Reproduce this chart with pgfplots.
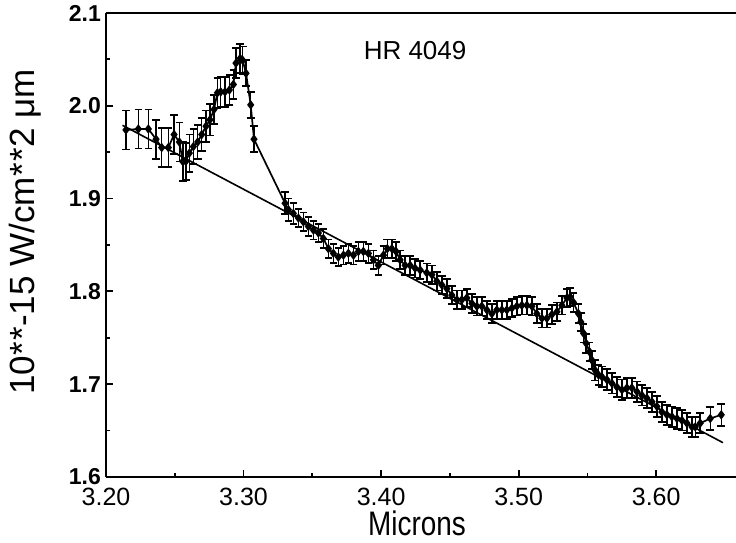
\documentclass[border=0pt]{standalone}
\usepackage{fontspec}
\setmainfont{Liberation Sans}
\usepackage{pgfplots}
\pgfplotsset{compat=1.18}
\usepackage{pgfplotstable}

% HR 4049 spectrum: wavelength, flux, error
\pgfplotstableread{
x y e
3.2145 1.974 0.021
3.2235 1.975 0.021
3.2308 1.975 0.021
3.2364 1.964 0.021
3.2405 1.955 0.021
3.2453 1.955 0.021
3.2495 1.969 0.021
3.2533 1.961 0.021
3.2558 1.940 0.021
3.2580 1.940 0.020
3.2606 1.949 0.020
3.2635 1.956 0.019
3.2667 1.961 0.018
3.2696 1.969 0.018
3.2727 1.978 0.017
3.2756 1.985 0.017
3.2785 1.996 0.016
3.2810 2.014 0.016
3.2834 2.015 0.016
3.2865 2.015 0.016
3.2897 2.017 0.016
3.2926 2.023 0.016
3.2945 2.046 0.016
3.2975 2.051 0.016
3.2994 2.049 0.015
3.3018 2.035 0.014
3.3052 2.001 0.014
3.3076 1.964 0.014
3.3302 1.895 0.012
3.3326 1.888 0.012
3.3362 1.884 0.011
3.3399 1.879 0.010
3.3435 1.875 0.010
3.3471 1.870 0.010
3.3508 1.866 0.010
3.3544 1.863 0.010
3.3580 1.857 0.010
3.3617 1.846 0.010
3.3653 1.841 0.010
3.3689 1.837 0.010
3.3726 1.839 0.010
3.3762 1.841 0.010
3.3799 1.839 0.010
3.3835 1.843 0.010
3.3871 1.843 0.010
3.3908 1.841 0.010
3.3944 1.834 0.010
3.3980 1.828 0.010
3.4017 1.839 0.010
3.4045 1.846 0.010
3.4078 1.846 0.010
3.4109 1.843 0.010
3.4138 1.834 0.010
3.4175 1.828 0.010
3.4211 1.828 0.010
3.4247 1.825 0.010
3.4284 1.823 0.010
3.4332 1.820 0.010
3.4369 1.818 0.010
3.4405 1.811 0.010
3.4441 1.807 0.010
3.4478 1.803 0.010
3.4514 1.796 0.010
3.4551 1.791 0.010
3.4587 1.791 0.010
3.4623 1.793 0.010
3.4660 1.787 0.010
3.4696 1.784 0.010
3.4732 1.784 0.010
3.4769 1.780 0.010
3.4805 1.776 0.010
3.4841 1.780 0.010
3.4878 1.780 0.010
3.4914 1.780 0.010
3.4951 1.782 0.010
3.4987 1.784 0.010
3.5023 1.785 0.010
3.5060 1.785 0.010
3.5096 1.784 0.010
3.5132 1.776 0.010
3.5169 1.771 0.010
3.5205 1.771 0.010
3.5241 1.775 0.010
3.5278 1.778 0.010
3.5314 1.785 0.010
3.5351 1.793 0.010
3.5375 1.794 0.010
3.5399 1.788 0.010
3.5435 1.776 0.010
3.5452 1.767 0.010
3.5471 1.755 0.010
3.5491 1.744 0.010
3.5515 1.735 0.010
3.5532 1.726 0.010
3.5556 1.715 0.011
3.5580 1.710 0.011
3.5605 1.708 0.011
3.5641 1.705 0.011
3.5678 1.701 0.011
3.5714 1.697 0.011
3.5751 1.694 0.011
3.5787 1.696 0.011
3.5823 1.696 0.011
3.5860 1.692 0.011
3.5896 1.688 0.011
3.5932 1.685 0.011
3.5969 1.681 0.011
3.6005 1.676 0.011
3.6041 1.670 0.011
3.6078 1.667 0.011
3.6114 1.665 0.011
3.6151 1.663 0.011
3.6187 1.661 0.011
3.6223 1.658 0.011
3.6260 1.654 0.011
3.6284 1.654 0.011
3.6320 1.658 0.011
3.6393 1.663 0.012
3.6473 1.667 0.012
}\spectrum

\begin{document}
\begin{tikzpicture}
\begin{axis}[
    scale only axis,
    width=315pt, height=232pt,
    xmin=3.2, xmax=3.658,
    ymin=1.6, ymax=2.1,
    axis x line=box, axis y line=left,
    axis line style={-, line width=1.3pt},
    xtick={3.2,3.3,3.4,3.5,3.6},
    ytick={1.6,1.7,1.8,1.9,2.0,2.1},
    minor tick num=1,
    tick align=inside,
    xtick pos=lower,
    major tick length=3.5pt, minor tick length=2pt,
    tick style={line width=0.9pt, black},
    /pgf/number format/assume math mode=true,
    xticklabel style={font=\fontsize{12.5}{14}\selectfont, inner ysep=0.5pt, yshift=-5pt, /pgf/number format/.cd, fixed, fixed zerofill, precision=2},
    yticklabel style={font=\bfseries\fontsize{11.5}{13}\selectfont, inner ysep=0.5pt, xshift=1pt, /pgf/number format/.cd, fixed, fixed zerofill, precision=1},
    every axis y label/.style={at={(axis description cs:-0.1286,0.528)}, rotate=90, anchor=center, font=\fontsize{17.5}{20}\selectfont},
    every axis x label/.style={at={(axis description cs:0.4937,-0.099)}, anchor=center, inner sep=0pt},
    ylabel={10*\kern1pt*-15 W/cm*\kern1pt*2 μm},
    xlabel={\scalebox{0.82}[1]{\fontsize{17}{20}\selectfont Microns}},
    clip=false,
]
\addplot[black, line width=0.8pt] coordinates {(3.212,1.979) (3.6485,1.637)};

\addplot[black, line width=0.85pt, mark=diamond*, mark size=1.7pt,
    error bars/.cd, y dir=both, y explicit,
    error bar style={line width=0.75pt},
    error mark options={rotate=90, mark size=1.9pt, line width=0.9pt}]
    table[x=x, y=y, y error=e]{\spectrum};

\node[font=\fontsize{13}{15}\selectfont] at (axis cs:3.4247,2.059) {HR 4049};
\end{axis}
\pgfresetboundingbox
\path[use as bounding box] ([xshift=-53pt,yshift=-33pt]current axis.south west) rectangle ([yshift=6.5pt]current axis.north east);
\end{tikzpicture}
\end{document}
